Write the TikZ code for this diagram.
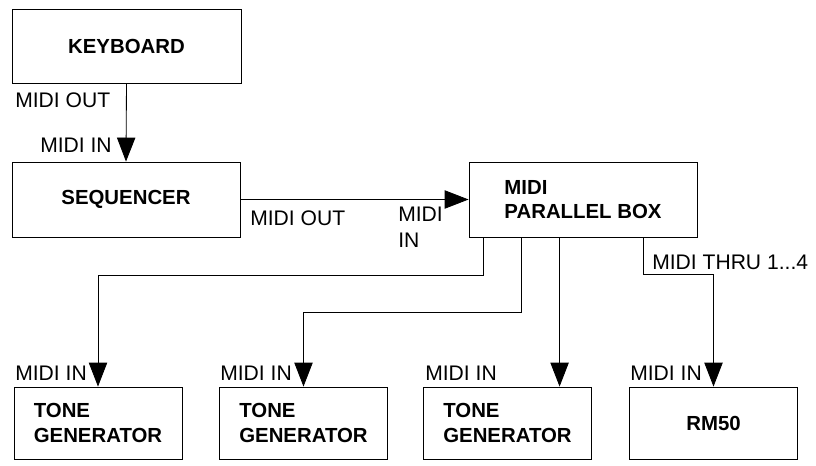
\documentclass[tikz,border=0pt]{standalone}
\usepackage{fontspec}
\setmainfont{Liberation Sans}
\usetikzlibrary{arrows.meta}

\tikzset{
  unit/.style={draw, line width=0.6pt, align=left,
    font=\bfseries\fontsize{14.5}{17.5}\selectfont},
  port/.style={inner sep=0pt, anchor=west, align=left,
    font=\fontsize{15}{18.5}\selectfont},
  link/.style={line width=0.6pt},
  feed/.style={link, -{Triangle[length=0.6cm, width=0.46cm]}}
}

\begin{document}
\begin{tikzpicture}
  \useasboundingbox (0,0) rectangle (20.4,11.625);
  % upper row
  \node[unit, minimum width=5.725cm, minimum height=1.85cm] (kbd) at (3.1625,10.475) {KEYBOARD};
  \node[unit, minimum width=5.7cm, minimum height=1.875cm] (seq) at (3.15,6.6375) {SEQUENCER};
  \node[unit, minimum width=5.7cm, minimum height=1.875cm] (par) at (14.575,6.6375) {MIDI\\PARALLEL BOX};
  % lower row
  \node[unit, minimum width=4.2cm, minimum height=1.8cm] (tg1) at (2.45,1.05) {TONE\\GENERATOR};
  \node[unit, minimum width=4.2cm, minimum height=1.8cm] (tg2) at (7.5875,1.05) {TONE\\GENERATOR};
  \node[unit, minimum width=4.2cm, minimum height=1.8cm] (tg3) at (12.6875,1.05) {TONE\\GENERATOR};
  \node[unit, minimum width=4.2cm, minimum height=1.8cm] (rm) at (17.8375,1.05) {RM50};

  % connectors
  \draw[feed] (kbd.south) -- (seq.north);
  \draw[feed] (seq.east) -- (par.west);
  \coordinate (j1) at (tg1.north |- 0,4.75);
  \coordinate (j2) at (tg2.north |- 0,3.825);
  \coordinate (j4) at (rm.north |- 0,4.775);
  \draw[feed] ([xshift=0.375cm]par.south west) |- (j1) -- (tg1.north);
  \draw[feed] ([xshift=1.325cm]par.south west) |- (j2) -- (tg2.north);
  \draw[feed] ([xshift=2.275cm]par.south west) coordinate (p3) -- (p3 |- tg3.north);
  \draw[feed] ([xshift=4.375cm]par.south west) |- (j4) -- (rm.north);

  % port labels
  \node[port] (kout) at (0.375,9.125) {MIDI OUT};
  \node[port, anchor=east] (sin) at (2.8,8.0) {MIDI IN};
  \node[port] (sout) at (6.25,6.175) {MIDI OUT};
  \node[port] (pin) at (9.95,5.95) {MIDI\\IN};
  \node[port] (thru) at (16.3,5.075) {MIDI THRU 1...4};
  \node[port] (in1) at (0.375,2.3) {MIDI IN};
  \node[port] (in2) at (5.5,2.3) {MIDI IN};
  \node[port] (in3) at (10.625,2.3) {MIDI IN};
  \node[port] (in4) at (15.75,2.3) {MIDI IN};
\end{tikzpicture}
\end{document}
